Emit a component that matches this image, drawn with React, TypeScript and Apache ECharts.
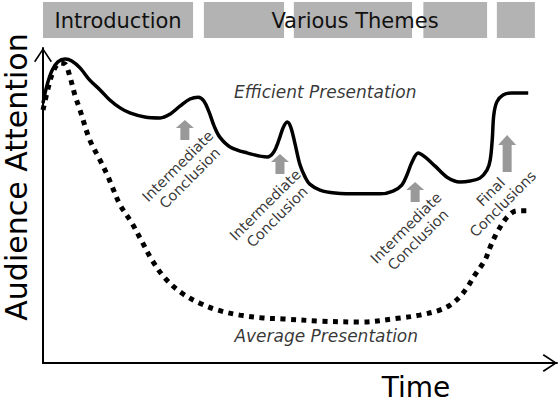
import { useEffect, useRef } from 'react';
import * as echarts from 'echarts';

// time (0-100) / attention (0-100)
const efficientCurve = [
  [0, 82.5], [0.8, 88.3], [1.8, 93.0], [2.9, 95.6], [4.3, 96.5], [5.6, 95.9], [7.2, 93.7],
  [9.1, 89.8], [11.1, 86.7], [13.0, 83.5], [15.0, 81.0], [16.9, 79.4], [19.8, 78.1], [22.8, 77.8],
  [24.7, 79.0], [26.7, 81.6], [28.6, 83.8], [30.2, 84.4], [31.3, 83.2], [32.3, 79.7], [33.3, 75.2],
  [34.4, 71.7], [36.4, 68.6], [39.7, 66.7], [43.6, 65.4], [44.9, 67.0], [45.9, 70.8], [46.7, 74.6],
  [47.5, 76.5], [48.2, 74.9], [49.0, 69.8], [50.0, 62.9], [51.0, 59.0], [51.9, 56.8], [53.9, 54.9],
  [56.8, 54.0], [61.7, 53.7], [65.6, 53.7], [68.1, 54.6], [69.8, 56.5], [70.8, 59.7], [71.8, 63.8],
  [73.0, 66.7], [74.3, 65.4], [76.3, 62.5], [78.6, 59.0], [81.1, 57.5], [83.1, 57.8], [85.0, 58.7],
  [86.4, 61.3], [87.0, 64.4], [87.4, 70.8], [87.7, 78.7], [88.3, 82.9], [89.5, 85.1], [91.2, 85.7],
  [94.4, 85.7],
];

const averageCurve = [
  [0, 80.3], [1.0, 87.3], [2.1, 93.0], [3.3, 95.2], [4.3, 94.9], [5.3, 90.5], [6.2, 85.1],
  [7.2, 80.3], [9.1, 70.8], [11.1, 64.4], [12.5, 59.7], [13.4, 56.2], [15.0, 50.2], [17.3, 44.4],
  [19.3, 38.4], [21.2, 32.7], [23.7, 27.0], [27.0, 22.2], [30.5, 19.0], [34.0, 16.8], [38.3, 15.2],
  [42.8, 14.3], [46.7, 14.0], [53.9, 13.3], [61.7, 13.0], [69.5, 14.3], [73.3, 15.2], [77.2, 16.8],
  [79.2, 18.4], [81.1, 21.0], [82.7, 24.4], [84.0, 27.9], [86.0, 32.7], [87.0, 36.8], [88.3, 41.3],
  [90.3, 46.3], [92.2, 48.3], [94.7, 48.3],
];

const conclusionTexts = ['Intermediate\nConclusion', 'Intermediate\nConclusion', 'Intermediate\nConclusion', 'Final\nConclusions'];
const conclusionLabelAt = [[27.4, 60.6], [44.4, 48.3], [71.8, 41.0], [88.3, 52.4]];
const conclusionArrowAt = [[27.6, 74.0], [46.1, 63.2], [72.4, 54.3], [90.3, 66.5]];

const curveNames = ['Efficient Presentation', 'Average Presentation'];
const curveNameAt = [[54.9, 86.0], [55.1, 8.6]];

const sections = [[0, 29.2], [31.3, 46.9], [48.8, 71.8], [74.0, 86.4], [88.3, 95.7]];
const sectionTitles = ['Introduction', 'Various Themes'];
const sectionTitleAt = [14.6, 60.7];

const FONT = 'DejaVu Sans';
const smallArrow = 'path://M9,0 L18,8 L13.5,8 L13.5,20 L4.5,20 L4.5,8 L0,8 Z';
const bigArrow = 'path://M9,0 L18,10 L13.5,10 L13.5,37 L4.5,37 L4.5,10 L0,10 Z';
const chevron = 'path://M9,0 L18,13.5 L16.6,14.5 L9,2.8 L1.4,14.5 L0,13.5 Z';

const App = () => {
  const chartDom = useRef<HTMLDivElement>(null);

  useEffect(() => {
    const chart = echarts.init(chartDom.current, null, { renderer: 'svg' });

    const axisLine = {
      show: true,
      symbol: ['none', chevron],
      symbolSize: [18, 14.5],
      symbolOffset: [0, -7],
      lineStyle: { color: '#000', width: 2 },
    };

    const option = {
      animation: false,
      backgroundColor: '#fff',
      grid: { left: 43, right: 1, top: 48, bottom: 39 },
      xAxis: {
        type: 'value',
        min: 0,
        max: 100,
        axisLine,
        axisTick: { show: false },
        axisLabel: { show: false },
        splitLine: { show: false },
      },
      yAxis: {
        type: 'value',
        min: 0,
        max: 100,
        axisLine,
        axisTick: { show: false },
        axisLabel: { show: false },
        splitLine: { show: false },
      },
      series: [
        {
          name: 'Average Presentation',
          type: 'line',
          data: averageCurve,
          smooth: 0.35,
          symbol: 'none',
          silent: true,
          z: 2,
          lineStyle: { color: '#000', width: 5, type: [5, 5.5], cap: 'butt' },
        },
        {
          name: 'Efficient Presentation',
          type: 'line',
          data: efficientCurve,
          smooth: 0.35,
          symbol: 'none',
          silent: true,
          z: 3,
          lineStyle: { color: '#000', width: 3.5 },
        },
        {
          name: 'arrows',
          type: 'scatter',
          silent: true,
          z: 4,
          itemStyle: { color: '#808080' },
          data: conclusionArrowAt.map((p, i) => ({
            value: p,
            symbol: i === 3 ? bigArrow : smallArrow,
            symbolSize: i === 3 ? [18, 37] : [18, 20],
          })),
        },
        {
          name: 'conclusions',
          type: 'scatter',
          silent: true,
          symbolSize: 0,
          z: 5,
          label: {
            show: true,
            position: 'inside',
            formatter: '{b}',
            rotate: 45,
            color: '#000',
            fontFamily: FONT,
            fontSize: 14.5,
            lineHeight: 17,
            align: 'center',
          },
          data: conclusionLabelAt.map((p, i) => ({ value: p, name: conclusionTexts[i] })),
        },
        {
          name: 'curveNames',
          type: 'scatter',
          silent: true,
          symbolSize: 0,
          z: 5,
          label: {
            show: true,
            position: 'inside',
            formatter: '{b}',
            color: '#000',
            fontFamily: FONT,
            fontStyle: 'italic',
            fontSize: 17,
          },
          data: curveNameAt.map((p, i) => ({ value: p, name: curveNames[i] })),
        },
      ],
    };

    chart.setOption(option);

    const px = (v: number) => chart.convertToPixel({ xAxisIndex: 0 }, v) as number;
    const graphic: any[] = sections.map(([a, b]) => ({
      type: 'rect',
      silent: true,
      shape: { x: px(a), y: 2, width: px(b) - px(a), height: 36 },
      style: { fill: '#b3b3b3' },
    }));
    sectionTitles.forEach((t, i) => {
      graphic.push({
        type: 'text',
        silent: true,
        x: px(sectionTitleAt[i]),
        y: 21,
        style: {
          text: t,
          fill: '#111',
          fontFamily: FONT,
          fontSize: 21,
          align: 'center',
          verticalAlign: 'middle',
        },
      });
    });
    graphic.push({
      type: 'text',
      silent: true,
      x: 416,
      y: 387,
      style: { text: 'Time', fill: '#000', fontFamily: FONT, fontSize: 28, align: 'center', verticalAlign: 'middle' },
    });
    graphic.push({
      type: 'text',
      silent: true,
      x: 16,
      y: 177,
      rotation: Math.PI / 2,
      style: {
        text: 'Audience Attention',
        fill: '#000',
        fontFamily: FONT,
        fontSize: 30,
        align: 'center',
        verticalAlign: 'middle',
      },
    });
    chart.setOption({ graphic });

    return () => {
      chart.dispose();
    };
  }, []);

  return (
    <div
      ref={chartDom}
      style={{ position: 'fixed', left: 0, top: 0, width: 558, height: 402, background: '#fff' }}
    />
  );
};

export default App;
